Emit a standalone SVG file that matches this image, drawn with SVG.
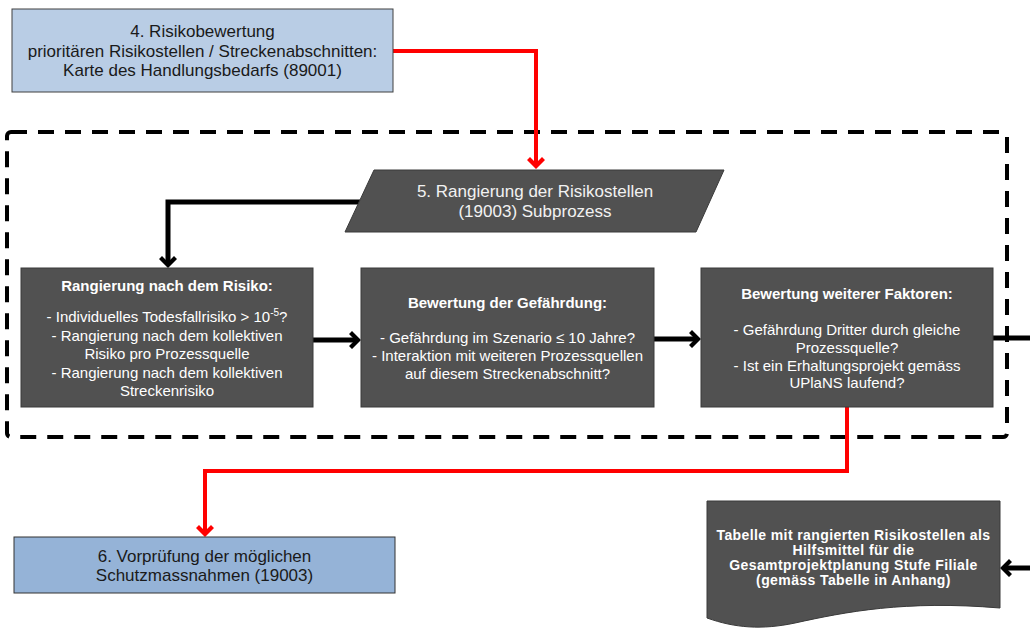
<svg xmlns="http://www.w3.org/2000/svg" width="1030" height="630" viewBox="0 0 1030 630">
<style>
text{font-family:"Liberation Sans",Arial,sans-serif;text-anchor:middle}
.lb{fill:#1a1a1a;font-size:17px}
.dk{fill:#515151;stroke:#3a3a3a;stroke-width:1}
.wt{fill:#ffffff;font-size:15px}
.wb{fill:#ffffff;font-size:15px;font-weight:bold}
.db{fill:#ffffff;font-size:14px;font-weight:bold;letter-spacing:0.4px}
.red{fill:none;stroke:#ff0000;stroke-width:4}
.blk{fill:none;stroke:#000000;stroke-width:5}
</style>
<defs>
<marker id="ar" markerUnits="userSpaceOnUse" markerWidth="12" markerHeight="18" viewBox="0 0 12 18" refX="9" refY="9" orient="auto" overflow="visible">
<path d="M0,3 L3,0 L12,9 L3,18 L0,15 L6,9 Z" fill="#ff0000"/>
</marker>
<marker id="ab" markerUnits="userSpaceOnUse" markerWidth="12" markerHeight="18" viewBox="0 0 12 18" refX="9" refY="9" orient="auto" overflow="visible">
<path d="M0,3 L3,0 L12,9 L3,18 L0,15 L6,9 Z" fill="#000000"/>
</marker>
</defs>

<g id="subprocess-frame">
<rect x="7" y="132" width="1000" height="305" rx="4" fill="none" stroke="#000" stroke-width="4" stroke-dasharray="16 11"/>
</g>

<g id="connectors">
<polyline class="red" points="393,51 536,51 536,166" marker-end="url(#ar)"/>
<polyline class="blk" points="360,202 168,202 168,265" marker-end="url(#ab)"/>
<line class="blk" x1="313" y1="340" x2="358" y2="340" marker-end="url(#ab)"/>
<line class="blk" x1="654" y1="339" x2="698" y2="339" marker-end="url(#ab)"/>
<line class="blk" x1="993" y1="338" x2="1030" y2="338"/>
<polyline class="red" points="847,407 847,471 205,471 205,534" marker-end="url(#ar)"/>
<line class="blk" x1="1030" y1="568" x2="1003" y2="568" marker-end="url(#ab)"/>
</g>

<g id="node-risikobewertung">
<rect x="12" y="9" width="381" height="83" fill="#b9cde5" stroke="#404040" stroke-width="1"/>
<text class="lb" x="202.5" y="37">4. Risikobewertung</text>
<text class="lb" x="202.5" y="56.5">prioritären Risikostellen / Streckenabschnitten:</text>
<text class="lb" x="202.5" y="76">Karte des Handlungsbedarfs (89001)</text>
</g>

<g id="node-rangierung-subprozess">
<polygon class="dk" points="374,170 724,170 696,232 345,232"/>
<text x="535" y="197" style="fill:#f2f2f2;font-size:17px">5. Rangierung der Risikostellen</text>
<text x="535" y="217" style="fill:#f2f2f2;font-size:17px">(19003) Subprozess</text>
</g>

<g id="node-rangierung-risiko">
<rect class="dk" x="21" y="268" width="292" height="139"/>
<text class="wb" x="167" y="291">Rangierung nach dem Risiko:</text>
<text class="wt" x="167" y="322">- Individuelles Todesfallrisiko &gt; 10<tspan font-size="10" dy="-6">-5</tspan><tspan dy="6">?</tspan></text>
<text class="wt" x="167" y="340.5">- Rangierung nach dem kollektiven</text>
<text class="wt" x="167" y="359">Risiko pro Prozessquelle</text>
<text class="wt" x="167" y="377.5">- Rangierung nach dem kollektiven</text>
<text class="wt" x="167" y="396">Streckenrisiko</text>
</g>

<g id="node-bewertung-gefaehrdung">
<rect class="dk" x="361" y="268" width="293" height="139"/>
<text class="wb" x="507.5" y="308">Bewertung der Gefährdung:</text>
<text class="wt" x="507.5" y="343">- Gefährdung im Szenario ≤ 10 Jahre?</text>
<text class="wt" x="507.5" y="361">- Interaktion mit weiteren Prozessquellen</text>
<text class="wt" x="507.5" y="378.5">auf diesem Streckenabschnitt?</text>
</g>

<g id="node-bewertung-faktoren">
<rect class="dk" x="701" y="268" width="292" height="139"/>
<text class="wb" x="847" y="299">Bewertung weiterer Faktoren:</text>
<text class="wt" x="847" y="335">- Gefährdung Dritter durch gleiche</text>
<text class="wt" x="847" y="353">Prozessquelle?</text>
<text class="wt" x="847" y="370.5">- Ist ein Erhaltungsprojekt gemäss</text>
<text class="wt" x="847" y="388">UPlaNS laufend?</text>
</g>

<g id="node-vorpruefung">
<rect x="14" y="537" width="381" height="56" fill="#95b3d7" stroke="#333" stroke-width="1"/>
<text class="lb" x="204.5" y="562">6. Vorprüfung der möglichen</text>
<text class="lb" x="204.5" y="581">Schutzmassnahmen (19003)</text>
</g>

<g id="node-tabelle">
<path class="dk" d="M707,501 L1000,501 L1000,608 C 905,600 845,612 795,623 C 762,630 735,628 707,618 Z"/>
<text class="db" x="853.5" y="540">Tabelle mit rangierten Risikostellen als</text>
<text class="db" x="853.5" y="555">Hilfsmittel für die</text>
<text class="db" x="853.5" y="570">Gesamtprojektplanung Stufe Filiale</text>
<text class="db" x="853.5" y="585">(gemäss Tabelle in Anhang)</text>
</g>
</svg>
